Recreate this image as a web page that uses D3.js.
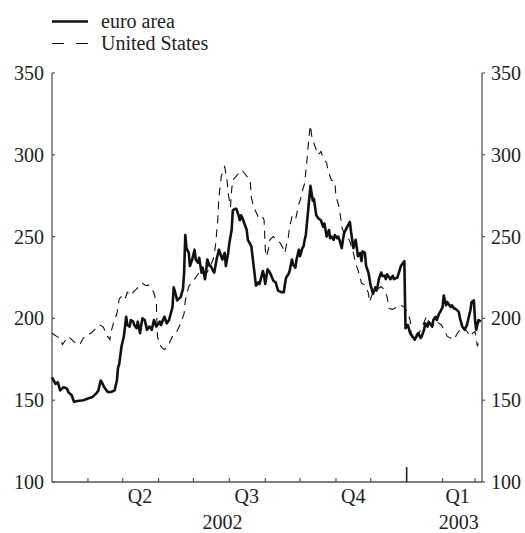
<!DOCTYPE html>
<html><head><meta charset="utf-8">
<script src="https://cdn.jsdelivr.net/npm/d3@7"></script>
<style>body{margin:0;background:#fff}</style>
</head><body><svg id="c" width="525" height="533"></svg>
<script>
// ---- data ----
const seriesNames = ["euro area", "United States"];
const yTicks = [100, 150, 200, 250, 300, 350];
const quarterLabels = [["Q2","2002-05-16"],["Q3","2002-08-16"],["Q4","2002-11-16"],["Q1","2003-02-14"]];
const yearLabels = [["2002","2002-07-26"],["2003","2003-02-15"]];
const euroDates = ["2002-03-01","2002-03-04","2002-03-06","2002-03-08","2002-03-11","2002-03-14","2002-03-15","2002-03-18","2002-03-20","2002-03-23","2002-03-28","2002-04-01","2002-04-05","2002-04-08","2002-04-10","2002-04-12","2002-04-13","2002-04-15","2002-04-18","2002-04-21","2002-04-24","2002-04-26","2002-04-27","2002-04-28","2002-04-30","2002-05-02","2002-05-03","2002-05-04","2002-05-05","2002-05-07","2002-05-08","2002-05-10","2002-05-11","2002-05-13","2002-05-14","2002-05-16","2002-05-17","2002-05-18","2002-05-20","2002-05-22","2002-05-24","2002-05-26","2002-05-28","2002-05-30","2002-06-02","2002-06-03","2002-06-06","2002-06-08","2002-06-10","2002-06-13","2002-06-14","2002-06-16","2002-06-17","2002-06-20","2002-06-22","2002-06-23","2002-06-24","2002-06-25","2002-06-27","2002-06-28","2002-06-30","2002-07-02","2002-07-03","2002-07-05","2002-07-06","2002-07-08","2002-07-09","2002-07-11","2002-07-12","2002-07-13","2002-07-15","2002-07-16","2002-07-18","2002-07-19","2002-07-21","2002-07-23","2002-07-25","2002-07-26","2002-07-28","2002-07-29","2002-07-31","2002-08-01","2002-08-03","2002-08-04","2002-08-06","2002-08-07","2002-08-09","2002-08-10","2002-08-11","2002-08-12","2002-08-14","2002-08-16","2002-08-17","2002-08-20","2002-08-22","2002-08-24","2002-08-26","2002-08-27","2002-08-30","2002-08-31","2002-09-01","2002-09-03","2002-09-05","2002-09-08","2002-09-10","2002-09-12","2002-09-15","2002-09-17","2002-09-18","2002-09-19","2002-09-21","2002-09-22","2002-09-24","2002-09-25","2002-09-27","2002-09-28","2002-09-30","2002-10-01","2002-10-03","2002-10-04","2002-10-05","2002-10-06","2002-10-08","2002-10-10","2002-10-12","2002-10-13","2002-10-15","2002-10-17","2002-10-19","2002-10-21","2002-10-22","2002-10-24","2002-10-26","2002-10-27","2002-10-28","2002-10-30","2002-10-31","2002-11-02","2002-11-03","2002-11-04","2002-11-06","2002-11-07","2002-11-08","2002-11-10","2002-11-13","2002-11-14","2002-11-16","2002-11-18","2002-11-20","2002-11-22","2002-11-23","2002-11-24","2002-11-26","2002-11-27","2002-11-29","2002-12-01","2002-12-03","2002-12-05","2002-12-06","2002-12-07","2002-12-08","2002-12-10","2002-12-11","2002-12-13","2002-12-14","2002-12-15","2002-12-17","2002-12-18","2002-12-20","2002-12-21","2002-12-24","2002-12-27","2002-12-29","2002-12-30","2002-12-31","2003-01-02","2003-01-04","2003-01-05","2003-01-07","2003-01-08","2003-01-10","2003-01-11","2003-01-13","2003-01-14","2003-01-16","2003-01-17","2003-01-19","2003-01-20","2003-01-22","2003-01-23","2003-01-24","2003-01-26","2003-01-27","2003-01-29","2003-01-30","2003-02-01","2003-02-02","2003-02-04","2003-02-05","2003-02-06","2003-02-08","2003-02-09","2003-02-11","2003-02-12","2003-02-15","2003-02-16","2003-02-18","2003-02-19","2003-02-20","2003-02-22","2003-02-23","2003-02-25","2003-02-26","2003-02-28","2003-03-01","2003-03-02","2003-03-04","2003-03-06"];
const euroValues = [164,160,161,156,158,157,155,153,149,149.5,150,151,152,154,156,162,161,158,155,155,156,162,170,172,183,189,195,201,196,195,199,198,196,194,198,191,196,200,199,193,195,193,199,195,198,196,201,197,199,207,219,214,211,213,218,228,251,243,240,232,236,242,236,234,237,228,231,224,229,236,232,232,229,228,236,242,238,236,240,232,240,246,254,266,267,267,263,260,263,262,258,254,248,244,232,220,222,221,229,226,221,230,228,223,222,217,216,216,221,225,227,229,236,233,231,236,242,238,243,244,248,251,266,281,272,273,263,261,260,256,258,250,254,249,250,248,251,249,250,248,243,248,252,255,259,253,243,248,238,240,235,241,240,232,228,220,215,219,217,220,224,228,226,226,224,227,225,224,226,224,225,232,234,235,194,196,191,190,188,187,190,191,188,189,193,197,195,198,196,195,199,201,199,203,204,207,214,208,210,209,207,208,206,206,204,200,195,194,193,196,199,205,210,211,199,193,199,198];
const usDates = ["2002-03-01","2002-03-03","2002-03-05","2002-03-08","2002-03-10","2002-03-12","2002-03-15","2002-03-18","2002-03-21","2002-03-23","2002-03-25","2002-03-28","2002-03-31","2002-04-04","2002-04-08","2002-04-11","2002-04-14","2002-04-16","2002-04-18","2002-04-20","2002-04-21","2002-04-23","2002-04-26","2002-04-27","2002-04-28","2002-05-01","2002-05-03","2002-05-05","2002-05-08","2002-05-10","2002-05-13","2002-05-16","2002-05-18","2002-05-21","2002-05-23","2002-05-26","2002-05-28","2002-05-30","2002-05-31","2002-06-02","2002-06-04","2002-06-06","2002-06-09","2002-06-11","2002-06-13","2002-06-16","2002-06-18","2002-06-20","2002-06-23","2002-06-24","2002-06-27","2002-06-29","2002-07-02","2002-07-06","2002-07-11","2002-07-15","2002-07-18","2002-07-20","2002-07-22","2002-07-23","2002-07-25","2002-07-27","2002-07-28","2002-07-30","2002-07-31","2002-08-02","2002-08-03","2002-08-04","2002-08-07","2002-08-09","2002-08-12","2002-08-14","2002-08-17","2002-08-19","2002-08-20","2002-08-22","2002-08-24","2002-08-26","2002-08-29","2002-08-31","2002-09-01","2002-09-02","2002-09-04","2002-09-05","2002-09-08","2002-09-11","2002-09-14","2002-09-17","2002-09-18","2002-09-19","2002-09-21","2002-09-22","2002-09-24","2002-09-26","2002-09-27","2002-09-30","2002-10-02","2002-10-03","2002-10-05","2002-10-06","2002-10-07","2002-10-08","2002-10-09","2002-10-10","2002-10-11","2002-10-12","2002-10-15","2002-10-16","2002-10-18","2002-10-19","2002-10-21","2002-10-24","2002-10-25","2002-10-28","2002-10-31","2002-11-01","2002-11-03","2002-11-05","2002-11-06","2002-11-08","2002-11-11","2002-11-13","2002-11-16","2002-11-18","2002-11-20","2002-11-23","2002-11-26","2002-11-29","2002-11-30","2002-12-02","2002-12-05","2002-12-07","2002-12-10","2002-12-13","2002-12-15","2002-12-17","2002-12-20","2002-12-23","2002-12-26","2002-12-27","2002-12-30","2003-01-02","2003-01-04","2003-01-05","2003-01-08","2003-01-11","2003-01-15","2003-01-18","2003-01-23","2003-01-27","2003-01-31","2003-02-03","2003-02-05","2003-02-08","2003-02-11","2003-02-13","2003-02-16","2003-02-19","2003-02-22","2003-02-25","2003-02-27","2003-03-01","2003-03-03","2003-03-04","2003-03-06"];
const usValues = [191,190,189,188,184,186,189,187,185,184,184,188,190,191,194,196,195,192,189,187,192,197,203,207,212,214,212,216,214,216,218,220,221.5,220,220.5,218,215.5,210,189,184,182,181,182.7,186,189,191,194,197,203,211,219.5,221.5,224,228,226,231,236,244,260,274,286.6,291,292.7,284.6,276.5,268,278.5,284.6,287,288.7,290.7,288.7,286,284.6,274,268,265,262,263,260,242,237.7,243,248,250,248,246,242,240,244,250,256,262,261,260,270,274.4,278,282.6,290,296.8,305,313,318,312,309,303,300,301,302,298,295,290.7,284.6,283.6,274.4,270,262,256,252,250,247,240,233.7,229.6,221.5,220.4,215.5,210,214.3,215.5,218,219.5,217.4,213.3,206,205.5,206.8,208,208,207,203,199,189,187,190,196,201,195,198,196,192,189,188,187,190,193,195,192,189,191,192,183,185,188];

// ---- chart ----
const FONT = "'Liberation Serif', 'DejaVu Serif', 'Times New Roman', Times, serif";
const svg = d3.select("#c");
const parse = d3.timeParse("%Y-%m-%d");
const L = 52, R = 482, T = 73, B = 482;
const x = d3.scaleTime().domain([parse("2002-03-01"), parse("2003-03-07")]).range([L, R]);
const y = d3.scaleLinear().domain([100, 350]).range([B, T]);
const axisCol = "#555";
const txtCol = "#222";
const fs = 20;
function txt(sel) { return sel.attr("font-family", FONT).attr("font-size", fs).attr("fill", txtCol); }

// axes lines
svg.append("line").attr("x1", L).attr("x2", L).attr("y1", T).attr("y2", B).attr("stroke", axisCol).attr("stroke-width", 1.3);
svg.append("line").attr("x1", R).attr("x2", R).attr("y1", T).attr("y2", B).attr("stroke", axisCol).attr("stroke-width", 1.3);
svg.append("line").attr("x1", L).attr("x2", R).attr("y1", B).attr("y2", B).attr("stroke", axisCol).attr("stroke-width", 1.3);

// y ticks & labels
yTicks.forEach(v => {
  svg.append("line").attr("x1", L).attr("x2", L + 3).attr("y1", y(v)).attr("y2", y(v)).attr("stroke", axisCol).attr("stroke-width", 1.2);
  svg.append("line").attr("x1", R).attr("x2", R + 3).attr("y1", y(v)).attr("y2", y(v)).attr("stroke", axisCol).attr("stroke-width", 1.2);
  txt(svg.append("text")).attr("x", L - 8).attr("y", y(v)).attr("dy", "0.35em").attr("text-anchor", "end").text(v);
  txt(svg.append("text")).attr("x", R + 9).attr("y", y(v)).attr("dy", "0.35em").attr("text-anchor", "start").text(v);
});

// month ticks
const months = d3.timeMonth.range(parse("2002-04-01"), parse("2003-03-07"));
months.forEach(m => {
  const tall = m.getMonth() === 0;
  svg.append("line").attr("x1", x(m)).attr("x2", x(m)).attr("y1", B).attr("y2", B - (tall ? 15 : 4))
    .attr("stroke", tall ? "#222" : axisCol).attr("stroke-width", tall ? 1.6 : 1.2);
});
quarterLabels.forEach(([t, d]) => {
  txt(svg.append("text")).attr("x", x(parse(d))).attr("y", 503).attr("text-anchor", "middle").text(t);
});
yearLabels.forEach(([t, d]) => {
  txt(svg.append("text")).attr("x", x(parse(d))).attr("y", 529).attr("text-anchor", "middle").text(t);
});

// series
const line = d3.line().x(d => x(d[0])).y(d => y(d[1]));
const usData = usDates.map((d, i) => [parse(d), usValues[i]]);
const euroData = euroDates.map((d, i) => [parse(d), euroValues[i]]);
svg.append("path").datum(usData).attr("d", line).attr("fill", "none").attr("stroke", "#111")
  .attr("stroke-width", 1.1).attr("stroke-dasharray", "8,6");
svg.append("path").datum(euroData).attr("d", line).attr("fill", "none").attr("stroke", "#111")
  .attr("stroke-width", 2.6).attr("stroke-linejoin", "round");

// legend
const lg = svg.append("g");
lg.append("line").attr("x1", 52).attr("x2", 88).attr("y1", 21.5).attr("y2", 21.5).attr("stroke", "#111").attr("stroke-width", 2.6);
lg.append("line").attr("x1", 52).attr("x2", 88).attr("y1", 43.5).attr("y2", 43.5).attr("stroke", "#111").attr("stroke-width", 1.1).attr("stroke-dasharray", "12,12");
txt(lg.append("text")).attr("x", 101).attr("y", 21.5).attr("dy", "0.3em").text(seriesNames[0]);
txt(lg.append("text")).attr("x", 101).attr("y", 43.5).attr("dy", "0.3em").text(seriesNames[1]);
</script></body></html>
